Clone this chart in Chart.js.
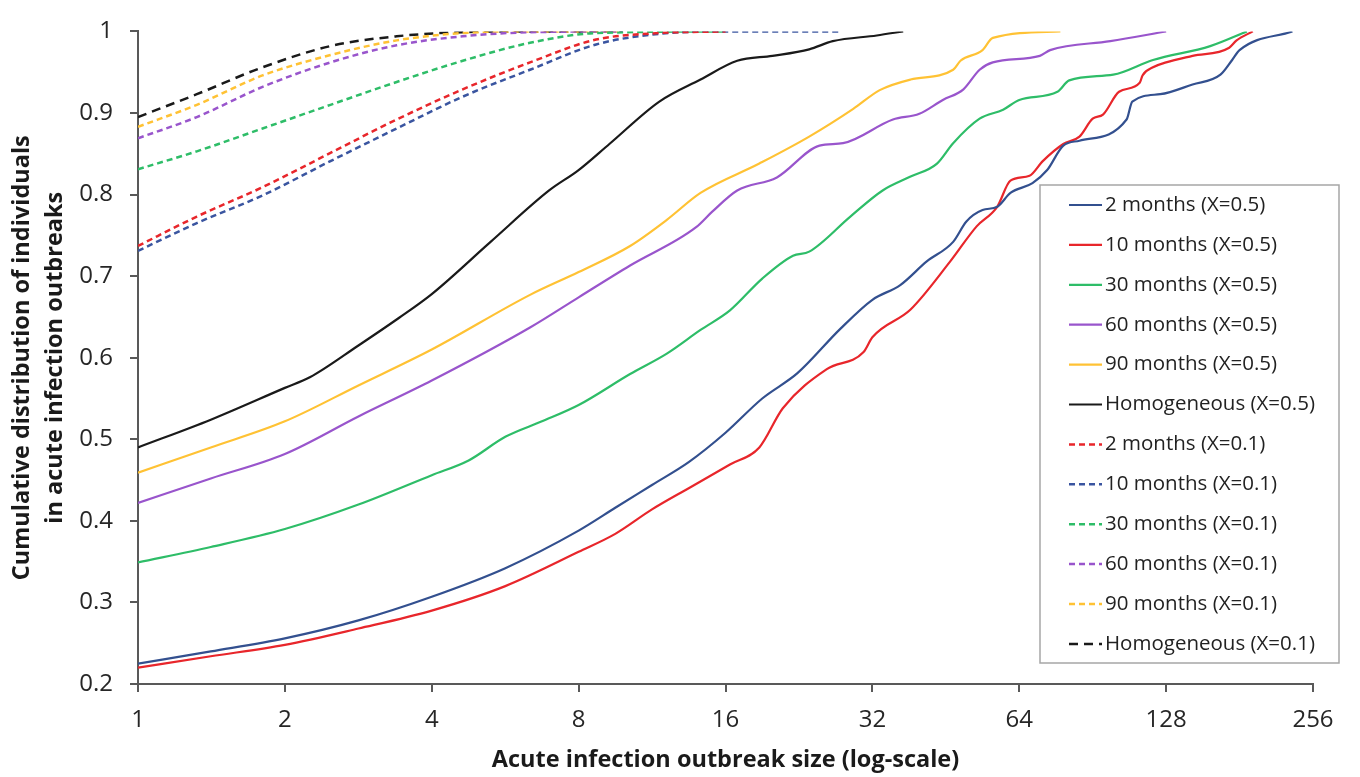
<!DOCTYPE html>
<html>
<head>
<meta charset="utf-8">
<script src="https://cdn.jsdelivr.net/npm/chart.js@4.4.1/dist/chart.umd.min.js"></script>
<style>
    html, body { margin: 0; padding: 0; background: #fff; }
</style>
</head>
<body>
<canvas id="OutbreakCdf" width="1360" height="777"></canvas>
<script>
// tick values on the log2 x axis
var sizeTicks = [1, 2, 4, 8, 16, 32, 64, 128, 256];

// [outbreak size, cumulative fraction]
var m2_x05 = [[1,0.225],[1.41,0.24],[2,0.256],[2.83,0.278],[4,0.307],[5.66,0.342],[8,0.388],[9.51,0.416],[11.31,0.444],[13.45,0.472],[16,0.508],[19.03,0.55],[22.47,0.581],[27.47,0.635],[32,0.671],[36.5,0.689],[41.36,0.718],[46.85,0.742],[49.87,0.767],[53.82,0.781],[57.68,0.785],[61.39,0.802],[68.12,0.814],[73.01,0.83],[78.79,0.86],[85.04,0.866],[106.2,0.892],[109.1,0.914],[124.5,0.923],[145,0.935],[165.4,0.947],[174.8,0.965],[181,0.977],[232.3,1.0]];
var m10_x05 = [[1,0.22],[1.41,0.234],[2,0.248],[2.83,0.268],[4,0.29],[5.66,0.32],[8,0.362],[9.51,0.384],[11.31,0.414],[13.45,0.44],[16.34,0.469],[18.77,0.49],[20.97,0.538],[25.81,0.586],[30.7,0.607],[32,0.625],[38.32,0.659],[46.21,0.718],[52.34,0.761],[57.68,0.785],[61.39,0.817],[67.18,0.823],[71.51,0.841],[78.79,0.862],[85.04,0.871],[90.51,0.893],[95.01,0.898],[102.5,0.926],[113,0.937],[114.5,0.946],[120.3,0.956],[128,0.962],[145,0.97],[172.4,0.98],[178.5,0.989],[192.7,1.0]];
var m30_x05 = [[1,0.349],[1.41,0.368],[2,0.39],[2.83,0.42],[4,0.456],[4.76,0.474],[5.66,0.503],[6.73,0.522],[8,0.542],[10.2,0.58],[12.13,0.605],[14.22,0.634],[16.34,0.658],[19.03,0.697],[22,0.725],[23.75,0.73],[28.84,0.773],[33.59,0.805],[38.32,0.822],[43.41,0.838],[46.85,0.863],[53.08,0.893],[59.3,0.904],[64,0.916],[76.64,0.926],[81.01,0.94],[99.73,0.947],[120.3,0.965],[157.6,0.982],[187.4,1.0]];
var m60_x05 = [[1,0.422],[1.41,0.452],[2,0.482],[2.83,0.528],[4,0.572],[6.36,0.637],[8,0.674],[10.2,0.713],[13.93,0.76],[15.03,0.779],[16.91,0.805],[20.39,0.821],[24.93,0.86],[27.86,0.863],[35.26,0.892],[39.94,0.899],[44.63,0.916],[49.18,0.929],[53.08,0.953],[56.49,0.962],[70.52,0.97],[74.03,0.977],[98.36,0.988],[128,1.0]];
var m90_x05 = [[1,0.459],[1.41,0.49],[2,0.522],[2.83,0.566],[4,0.61],[6.36,0.677],[8,0.705],[10.2,0.737],[12.13,0.769],[14.22,0.802],[18.77,0.838],[23.75,0.871],[29.24,0.905],[33.13,0.928],[38.32,0.941],[46.85,0.953],[48.5,0.964],[53.82,0.977],[56.49,0.992],[77.71,1.0]];
var hom_x05 = [[1,0.49],[1.41,0.524],[2,0.563],[2.25,0.576],[2.83,0.615],[3.43,0.649],[4,0.678],[5.28,0.742],[6.96,0.805],[8,0.83],[9.25,0.862],[11.71,0.914],[14.22,0.941],[16.91,0.964],[19.97,0.97],[23.75,0.978],[26.54,0.988],[32.67,0.995],[37.01,1.0]];

var m2_x01 = [[1,0.737],[1.32,0.773],[1.8,0.809],[2.48,0.851],[3.39,0.892],[4.63,0.929],[6.36,0.962],[8.69,0.99],[11.71,0.998],[16,1.0]];
var m10_x01 = [[1,0.731],[1.32,0.765],[1.8,0.799],[2.48,0.841],[3.39,0.881],[4.63,0.92],[6.36,0.953],[8.69,0.984],[11.71,0.997],[16,1.0],[27.47,1.0]];
var m30_x01 = [[1,0.831],[1.32,0.853],[1.8,0.881],[2.48,0.91],[3.39,0.938],[4.63,0.964],[6.36,0.986],[8.69,0.998],[16,1.0]];
var m60_x01 = [[1,0.869],[1.32,0.895],[1.8,0.932],[2.48,0.962],[3.39,0.983],[4.63,0.994],[6.36,0.999],[9.85,1.0]];
var m90_x01 = [[1,0.883],[1.32,0.91],[1.8,0.946],[2.48,0.971],[3.39,0.989],[4.63,0.998],[6.36,1.0],[9.85,1.0]];
var hom_x01 = [[1,0.895],[1.32,0.923],[1.8,0.956],[2.48,0.982],[3.39,0.994],[4.63,0.999],[6.96,1.0],[9.85,1.0]];

var FONT = '"Open Sans", "Noto Sans", sans-serif';
var AXIS = '#595959';

function series(label, pts, color, dash) {
    return {
        label: label,
        data: pts.map(function (p) { return { x: p[0], y: p[1] }; }),
        borderColor: color,
        backgroundColor: color,
        borderWidth: dash ? 2.5 : 2.2,
        borderDash: dash || [],
        pointRadius: 0,
        fill: false,
        cubicInterpolationMode: 'monotone'
    };
}

// legend drawn in a box inside the plot, like the original figure
var boxLegend = {
    id: 'boxLegend',
    afterDatasetsDraw: function (chart) {
        var ctx = chart.ctx;
        var left = 1040, top = 185, right = 1339, bottom = 663, row = 39.9;
        ctx.save();
        ctx.fillStyle = '#fff';
        ctx.fillRect(left, top, right - left, bottom - top);
        ctx.strokeStyle = '#a6a6a6';
        ctx.lineWidth = 1.5;
        ctx.strokeRect(left, top, right - left, bottom - top);
        chart.data.datasets.forEach(function (ds, i) {
            var y = top + 20 + i * row;
            ctx.beginPath();
            ctx.setLineDash(ds.borderDash);
            ctx.strokeStyle = ds.borderColor;
            ctx.lineWidth = ds.borderWidth;
            ctx.moveTo(1069, y);
            ctx.lineTo(1102, y);
            ctx.stroke();
            ctx.setLineDash([]);
            ctx.fillStyle = '#222';
            ctx.font = '20.5px ' + FONT;
            ctx.textBaseline = 'middle';
            ctx.fillText(ds.label, 1105, y);
        });
        ctx.restore();
    }
};

new Chart(document.getElementById('OutbreakCdf'), {
    type: 'line',
    data: {
        datasets: [
            series('2 months (X=0.5)', m2_x05, '#33508F'),
            series('10 months (X=0.5)', m10_x05, '#E8262B'),
            series('30 months (X=0.5)', m30_x05, '#2EBD68'),
            series('60 months (X=0.5)', m60_x05, '#9955CC'),
            series('90 months (X=0.5)', m90_x05, '#FFC234'),
            series('Homogeneous (X=0.5)', hom_x05, '#1A1A1A'),
            series('2 months (X=0.1)', m2_x01, '#E8262B', [6, 4]),
            series('10 months (X=0.1)', m10_x01, '#3A55A0', [6, 4]),
            series('30 months (X=0.1)', m30_x01, '#2EBD68', [6, 4]),
            series('60 months (X=0.1)', m60_x01, '#9955CC', [6, 4]),
            series('90 months (X=0.1)', m90_x01, '#FFC234', [6, 4]),
            series('Homogeneous (X=0.1)', hom_x01, '#1A1A1A', [9, 6])
        ]
    },
    options: {
        responsive: false,
        animation: false,
        devicePixelRatio: 1,
        layout: { padding: { top: 18, right: 47, left: 0, bottom: 0 } },
        plugins: {
            legend: { display: false },
            tooltip: { enabled: false }
        },
        scales: {
            x: {
                type: 'logarithmic',
                min: 1,
                max: 256,
                afterBuildTicks: function (scale) {
                    scale.ticks = sizeTicks.map(function (v) { return { value: v }; });
                },
                afterFit: function (scale) { scale.height = 93; },
                border: { display: true, color: AXIS, width: 2 },
                grid: { drawOnChartArea: false, drawTicks: true, tickLength: 8, color: AXIS, lineWidth: 2 },
                ticks: {
                    autoSkip: false,
                    maxRotation: 0,
                    padding: 14,
                    color: '#262626',
                    font: { family: FONT, size: 24 },
                    callback: function (v) { return String(v); }
                },
                title: {
                    display: true,
                    text: 'Acute infection outbreak size (log-scale)',
                    color: '#1a1a1a',
                    font: { family: FONT, size: 23.5, weight: 'bold' },
                    padding: { top: 0, bottom: 3 }
                }
            },
            y: {
                min: 0.2,
                max: 1,
                afterFit: function (scale) { scale.width = 138; },
                border: { display: true, color: AXIS, width: 2 },
                grid: { drawOnChartArea: false, drawTicks: true, tickLength: 8, color: AXIS, lineWidth: 2 },
                ticks: {
                    stepSize: 0.1,
                    padding: 17,
                    color: '#262626',
                    font: { family: FONT, size: 24 },
                    callback: function (v) { return String(+v.toFixed(1)); }
                },
                title: {
                    display: true,
                    text: ['Cumulative distribution of individuals', 'in acute infection outbreaks'],
                    color: '#1a1a1a',
                    font: { family: FONT, size: 23.5, weight: 'bold', lineHeight: 1.4 },
                    padding: { top: 6, bottom: 0 }
                }
            }
        }
    },
    plugins: [boxLegend]
});
</script>
</body>
</html>
